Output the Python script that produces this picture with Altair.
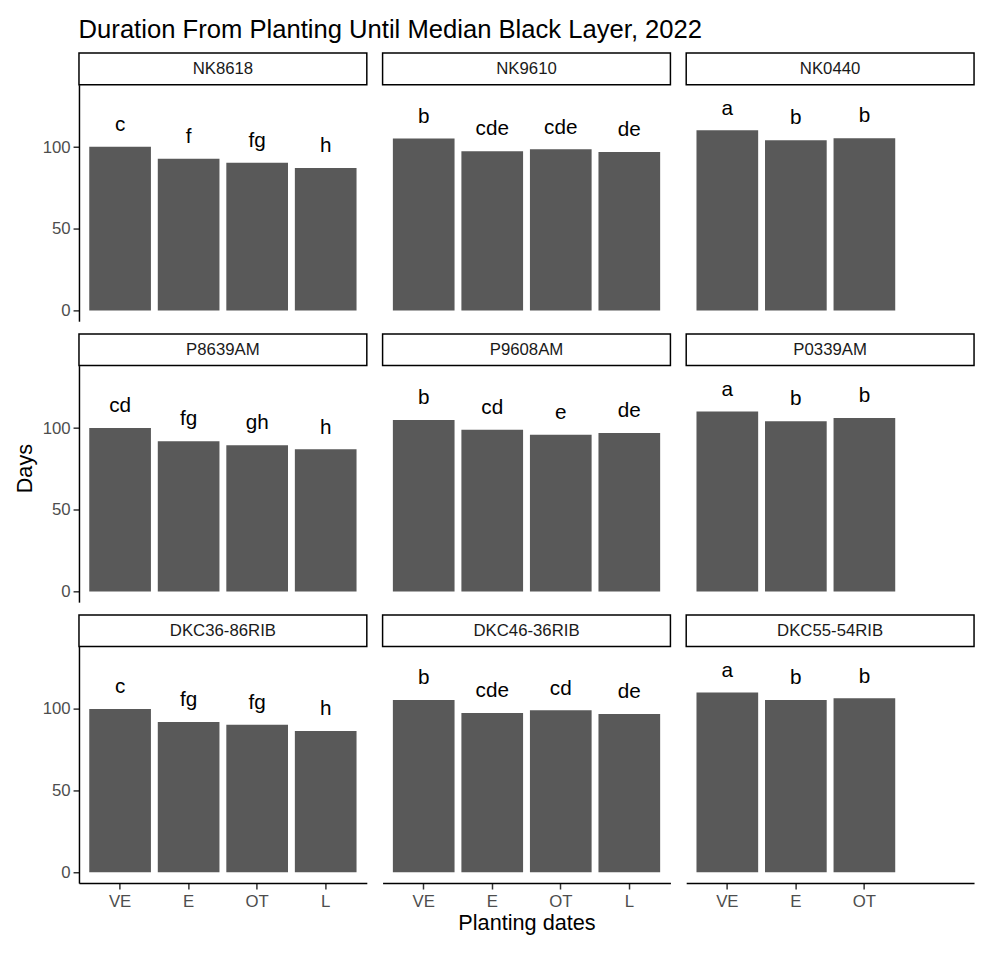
import altair as alt
import pandas as pd

FONT = "Liberation Sans"

title_text = "Duration From Planting Until Median Black Layer, 2022"
x_title = "Planting dates"
y_title = "Days"

dates = ["VE", "E", "OT", "L"]
y_ticks = [0, 50, 100]

genotypes = ["NK8618", "NK9610", "NK0440",
             "P8639AM", "P9608AM", "P0339AM",
             "DKC36-86RIB", "DKC46-36RIB", "DKC55-54RIB"]

days_nk8618 = [100.3, 92.9, 90.5, 87.3]
days_nk9610 = [105.3, 97.5, 98.7, 97.1]
days_nk0440 = [110.3, 104.3, 105.5]
days_p8639am = [100.0, 92.0, 89.5, 87.0]
days_p9608am = [105.0, 99.0, 96.0, 97.0]
days_p0339am = [110.2, 104.2, 106.2]
days_dkc3686 = [100.0, 92.0, 90.4, 86.6]
days_dkc4636 = [105.6, 97.6, 99.2, 97.0]
days_dkc5554 = [110.2, 105.6, 106.6]

let_nk8618 = ["c", "f", "fg", "h"]
let_nk9610 = ["b", "cde", "cde", "de"]
let_nk0440 = ["a", "b", "b"]
let_p8639am = ["cd", "fg", "gh", "h"]
let_p9608am = ["b", "cd", "e", "de"]
let_p0339am = ["a", "b", "b"]
let_dkc3686 = ["c", "fg", "fg", "h"]
let_dkc4636 = ["b", "cde", "cd", "de"]
let_dkc5554 = ["a", "b", "b"]

all_days = [days_nk8618, days_nk9610, days_nk0440,
            days_p8639am, days_p9608am, days_p0339am,
            days_dkc3686, days_dkc4636, days_dkc5554]
all_letters = [let_nk8618, let_nk9610, let_nk0440,
               let_p8639am, let_p9608am, let_p0339am,
               let_dkc3686, let_dkc4636, let_dkc5554]

W = 292
H = 240
STRIP = 32
Y_DOMAIN = [-6.6, 138.3]
BAR = "#595959"


def make_cell(idx):
    row, col = divmod(idx, 3)
    name = genotypes[idx]
    vals = all_days[idx]
    lets = all_letters[idx]
    n = len(vals)
    df = pd.DataFrame({"date": dates[:n], "days": vals, "letter": lets})

    if row == 2:
        xaxis = alt.Axis(values=dates[:n], labelAngle=0,
                         title=x_title if col == 1 else " ",
                         domainColor="black", domainWidth=1.5,
                         tickColor="#333333", tickWidth=1.5, tickSize=6,
                         labelFontSize=17, labelColor="#4D4D4D", labelPadding=5,
                         labelFont=FONT, titleFont=FONT,
                         titleFontSize=22, titleFontWeight="normal",
                         titleColor="black", titlePadding=3, grid=False)
    else:
        xaxis = None

    if col == 0:
        ykw = dict(values=y_ticks, title=y_title if row == 1 else " ",
                   domainColor="black", domainWidth=1.5,
                   tickColor="#333333", tickWidth=1.5, tickSize=6,
                   labelFontSize=17, labelColor="#4D4D4D", labelPadding=3,
                   labelFont=FONT, titleFont=FONT,
                   titleFontSize=22, titleFontWeight="normal",
                   titleColor="black", titlePadding=6, grid=False)
        if row == 1:
            ykw["titleY"] = 104
        yaxis = alt.Axis(**ykw)
    else:
        yaxis = None

    xenc = alt.X("date:N", sort=dates,
                 scale=alt.Scale(domain=dates, paddingInner=0.1, paddingOuter=0.15),
                 axis=xaxis)
    yenc = alt.Y("days:Q", scale=alt.Scale(domain=Y_DOMAIN, nice=False, zero=False),
                 axis=yaxis)

    base = alt.Chart(df)
    bars = base.mark_bar(color=BAR).encode(x=xenc, y=yenc, y2=alt.datum(0))
    labels = base.mark_text(baseline="alphabetic", dy=-16, fontSize=21,
                            font=FONT, color="black").encode(
        x=xenc, y=yenc, text="letter:N")

    sdf = pd.DataFrame({"g": [name]})
    strip_box = alt.Chart(sdf).mark_rect(fill="white", stroke="black",
                                         strokeWidth=1.5).encode(
        x=alt.value(0), x2=alt.value(W), y=alt.value(-STRIP), y2=alt.value(0))
    strip_txt = alt.Chart(sdf).mark_text(fontSize=17, font=FONT, color="#1A1A1A",
                                         baseline="middle").encode(
        x=alt.value(W / 2), y=alt.value(-STRIP / 2), text="g:N")

    return alt.layer(bars, labels, strip_box, strip_txt).properties(width=W, height=H)


rows = []
for r in range(3):
    rows.append(alt.hconcat(*[make_cell(r * 3 + c) for c in range(3)], spacing=14))

chart = alt.vconcat(*rows, spacing=12).properties(
    title=alt.Title(title_text, anchor="start", fontSize=26, font=FONT,
                    fontWeight="normal", color="black", dx=66, offset=10),
    padding={"left": 5, "top": 2, "right": 2, "bottom": 2},
).configure(font=FONT).configure_view(stroke=None)

chart.save("out.html", embed_options={"renderer": "svg", "actions": False})
